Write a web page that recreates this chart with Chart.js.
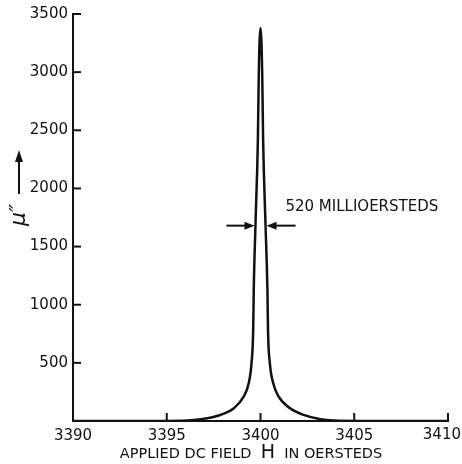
<!DOCTYPE html>
<html>
<head>
<meta charset="utf-8">
<script src="https://cdn.jsdelivr.net/npm/chart.js@4"></script>
<style>
  html, body { margin: 0; padding: 0; background: #fff; }
  #wrap { width: 462px; height: 464px; }
</style>
</head>
<body>
<div id="wrap"><canvas id="resonance"></canvas></div>
<script>
// Values (field in Oe, mu'' relative units)
const fieldOe = [3390, 3393, 3396.1, 3396.8, 3397.86, 3398.58, 3399.1, 3399.37, 3399.52, 3399.61, 3399.64, 3399.73, 3399.86, 3399.91, 3400,
                 3400.09, 3400.14, 3400.27, 3400.37, 3400.4, 3400.5, 3400.68, 3400.97, 3401.58, 3402.3, 3403.2, 3403.9, 3407, 3410];
const muDoublePrime = [0, 0, 5, 15, 52, 109, 209, 324, 496, 783, 1127, 1677, 2416, 3000, 3380,
                       3000, 2416, 1677, 1127, 783, 496, 324, 209, 109, 52, 15, 5, 0, 0];
const xTicks = [3390, 3395, 3400, 3405, 3410];
const yTicks = [500, 1000, 1500, 2000, 2500, 3000, 3500];

const ink = '#111';
const labelFont = "'DejaVu Sans', sans-serif";
const lastX = xTicks[xTicks.length - 1];

const points = fieldOe.map((f, i) => ({ x: f, y: muDoublePrime[i] }));

// inward tick marks, linewidth arrows, axis captions
const decorations = {
    id: 'decorations',
    afterDatasetsDraw(chart) {
        const { ctx, scales: { x, y }, chartArea } = chart;
        ctx.save();
        ctx.strokeStyle = ink;
        ctx.fillStyle = ink;
        ctx.lineWidth = 2;

        // ticks pointing into the plot
        yTicks.forEach(v => {
            const py = y.getPixelForValue(v);
            ctx.beginPath();
            ctx.moveTo(chartArea.left, py);
            ctx.lineTo(chartArea.left + 8, py);
            ctx.stroke();
        });
        xTicks.slice(1).forEach(v => {
            const px = x.getPixelForValue(v);
            ctx.beginPath();
            ctx.moveTo(px, chartArea.bottom);
            ctx.lineTo(px, chartArea.bottom - 8);
            ctx.stroke();
        });

        // last x label sits against the right edge, like the original
        ctx.font = `15px ${labelFont}`;
        ctx.textAlign = 'right';
        ctx.textBaseline = 'top';
        ctx.fillText(String(lastX), chart.width - 1, chartArea.bottom + 7);

        // half-width arrows
        const ay = y.getPixelForValue(1680);
        const arrow = (from, to) => {
            const x0 = x.getPixelForValue(from), x1 = x.getPixelForValue(to);
            const dir = Math.sign(x1 - x0);
            ctx.beginPath();
            ctx.moveTo(x0, ay);
            ctx.lineTo(x1 - dir * 6, ay);
            ctx.stroke();
            ctx.beginPath();
            ctx.moveTo(x1, ay);
            ctx.lineTo(x1 - dir * 10, ay - 4);
            ctx.lineTo(x1 - dir * 10, ay + 4);
            ctx.closePath();
            ctx.fill();
        };
        arrow(3398.18, 3399.68);
        arrow(3401.87, 3400.32);

        ctx.font = `15px ${labelFont}`;
        ctx.textAlign = 'left';
        ctx.textBaseline = 'middle';
        ctx.fillText('520 MILLIOERSTEDS', x.getPixelForValue(3401.33), y.getPixelForValue(1840));

        // x axis caption with a larger H
        const parts = [['APPLIED DC FIELD  ', 14.5], ['H', 19], ['  IN OERSTEDS', 14.5]];
        let total = 0;
        parts.forEach(p => { ctx.font = `${p[1]}px ${labelFont}`; total += ctx.measureText(p[0]).width; });
        let cx = 251 - total / 2;
        ctx.textBaseline = 'alphabetic';
        parts.forEach(p => {
            ctx.font = `${p[1]}px ${labelFont}`;
            ctx.fillText(p[0], cx, 458);
            cx += ctx.measureText(p[0]).width;
        });

        // y axis caption: mu'' with an upward arrow
        ctx.beginPath();
        ctx.moveTo(19, 194);
        ctx.lineTo(19, 158);
        ctx.stroke();
        ctx.beginPath();
        ctx.moveTo(19, 150);
        ctx.lineTo(15, 162);
        ctx.lineTo(23, 162);
        ctx.closePath();
        ctx.fill();
        ctx.translate(19, 215);
        ctx.rotate(-Math.PI / 2);
        ctx.font = `italic 22px ${labelFont}`;
        ctx.textAlign = 'center';
        ctx.textBaseline = 'middle';
        ctx.fillText('\u03BC\u2033', 0, 0);
        ctx.restore();
    }
};

const chart = new Chart(document.getElementById('resonance').getContext('2d'), {
    type: 'scatter',
    data: {
        datasets: [{
            data: points,
            showLine: true,
            borderColor: ink,
            borderWidth: 2.5,
            pointRadius: 0,
            cubicInterpolationMode: 'monotone'
        }]
    },
    options: {
        responsive: true,
        maintainAspectRatio: false,
        animation: false,
        layout: { padding: { top: 14, right: 14, left: 0, bottom: 0 } },
        plugins: {
            legend: { display: false },
            tooltip: { enabled: false }
        },
        scales: {
            x: {
                type: 'linear',
                min: 3390,
                max: 3410,
                afterFit: s => { s.height = 43; s.paddingLeft = 0; s.paddingRight = 0; },
                afterBuildTicks: s => { s.ticks = xTicks.map(v => ({ value: v })); },
                grid: { display: false, drawTicks: false },
                border: { display: true, color: ink, width: 2 },
                ticks: {
                    color: ink,
                    padding: 6,
                    font: { family: labelFont, size: 15 },
                    maxRotation: 0,
                    callback: v => (v === lastX ? '' : String(v))
                }
            },
            y: {
                min: 0,
                max: 3500,
                afterFit: s => { s.width = 73; s.paddingTop = 0; s.paddingBottom = 0; },
                afterBuildTicks: s => { s.ticks = [0, ...yTicks].map(v => ({ value: v })); },
                grid: { display: false, drawTicks: false },
                border: { display: true, color: ink, width: 2 },
                ticks: {
                    color: ink,
                    padding: 5,
                    font: { family: labelFont, size: 15 },
                    callback: v => (v === 0 ? '' : String(v))
                }
            }
        }
    },
    plugins: [decorations]
});
</script>
</body>
</html>
